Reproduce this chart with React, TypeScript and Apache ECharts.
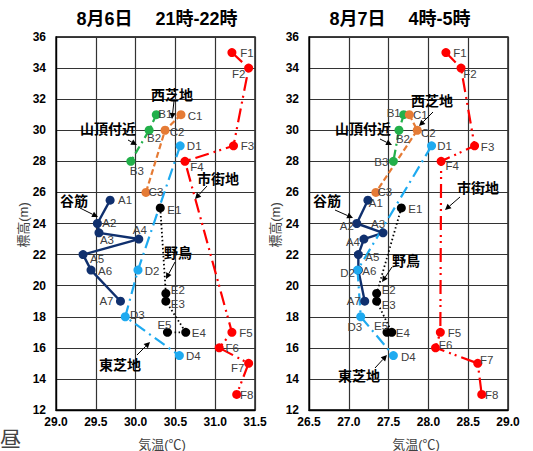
import React, { useEffect, useRef } from 'react';
import * as echarts from 'echarts';

// ---- data ----
const titles = ['8月6日　 21時-22時', '8月7日　 4時-5時'];
const xMins = [29.0, 26.5];
const xMaxs = [31.5, 29.0];
const yMin = 12;
const yMax = 36;

const namesA = ['A1', 'A2', 'A3', 'A4', 'A5', 'A6', 'A7'];
const namesB = ['B1', 'B2', 'B3'];
const namesC = ['C1', 'C2', 'C3'];
const namesD = ['D1', 'D2', 'D3', 'D4'];
const namesE = ['E1', 'E2', 'E3', 'E4', 'E5'];
const namesF = ['F1', 'F2', 'F3', 'F4', 'F5', 'F6', 'F7', 'F8'];

const elevA = [25.5, 24, 23.4, 23, 22, 21, 19];
const elevB = [31, 30, 28];
const elevC = [31, 30, 26];
const elevD = [29, 21, 18, 15.5];
const elevE = [25, 19.5, 19, 17, 17];
const elevF = [35, 34, 29, 28, 17, 16, 15, 13];

// 8/6 21-22h
const tempA1 = [29.68, 29.52, 29.54, 30.04, 29.34, 29.44, 29.81];
const tempB1 = [30.26, 30.17, 29.94];
const tempC1 = [30.57, 30.37, 30.13];
const tempD1 = [30.56, 30.03, 29.87, 30.55];
const tempE1 = [30.31, 30.38, 30.38, 30.63, 30.4];
const tempF1 = [31.21, 31.42, 31.23, 30.62, 31.21, 31.05, 31.42, 31.27];

// 8/7 4-5h
const tempA2 = [27.24, 27.1, 27.43, 27.19, 27.12, 27.12, 27.2];
const tempB2 = [27.69, 27.63, 27.56];
const tempC2 = [27.76, 27.86, 27.34];
const tempD2 = [28.04, 27.11, 27.15, 27.56];
const tempE2 = [27.66, 27.35, 27.35, 27.54, 27.48];
const tempF2 = [28.22, 28.41, 28.58, 28.16, 28.15, 28.09, 28.62, 28.67];

const areaLabels = ['谷筋', '山頂付近', '西芝地', '東芝地', '野鳥', '市街地'];

// ---- styles ----
const FONT = '"Liberation Sans", Arial, "Noto Sans CJK JP", sans-serif';
const colors = ['#10306e', '#22b04a', '#e57b35', '#1eaaf0', '#000000', '#ff0000'];
const dashes: any[] = ['solid', [8, 4, 2, 4], [6, 3], [12, 5, 2, 5], [1.5, 2.5], [14, 5, 2, 4, 2, 5]];
const widths = [2.4, 2.2, 2.2, 2.2, 1.8, 2.2];

// label offsets (label centre minus point centre, px)
const offL: number[][][] = [
  [[15, 0], [12, -1], [8, 7], [1, -9], [14, 4], [14, 1], [-14, 0]],
  [[9, -1], [5, 8], [6, 10]],
  [[14, 1], [12, 2], [10, 0]],
  [[14, 0], [14, 1], [12, -2], [14, 0]],
  [[14, 2], [12, -3], [12, 3], [13, 1], [-3, -7]],
  [[15, 0], [-10, 6], [14, 0], [12, 6], [14, 1], [13, 0], [-11, 5], [10, 1]],
];
const offR: number[][][] = [
  [[8, 3], [-10, 2], [-5, -9], [-11, 3], [14, 2], [11, 1], [-11, 0]],
  [[-10, -2], [4, 9], [-12, 1]],
  [[11, 0], [11, 3], [9, 0]],
  [[13, 0], [-10, 3], [-6, 10], [15, 1]],
  [[14, 1], [12, -3], [12, 4], [11, 1], [-6, -6]],
  [[14, 0], [9, 6], [13, 1], [11, 5], [14, 1], [10, -3], [9, -3], [10, 1]],
];

// annotation text centres and arrows [x0,y0,x1,y1] per panel (order = areaLabels)
const annotL = [
  { t: [74, 201], a: [80, 208, 98, 217] },
  { t: [108, 129], a: [128, 140, 137, 145] },
  { t: [172, 95], a: [174, 101, 172, 119] },
  { t: [120, 365], a: [137, 355, 150, 342] },
  { t: [178, 253], a: [175, 262, 166, 279] },
  { t: [218, 179], a: [207, 186, 195, 199] },
];
const annotR = [
  { t: [327, 201], a: [335, 210, 353, 218] },
  { t: [363, 129], a: [380, 139, 392, 145] },
  { t: [432, 101], a: [433, 112, 419, 126] },
  { t: [359, 376], a: [375, 368, 387, 355] },
  { t: [406, 261], a: [392, 267, 382, 282] },
  { t: [478, 188], a: [460, 197, 445, 210] },
];

const gridLefts = [56, 309];
const gridTop = 37;
const gridW = 199;
const gridH = 373;

function mkSeries(idx: number, names: string[], temps: number[], elevs: number[], offs: number[][], axis: number) {
  return {
    type: 'line',
    name: names[0][0] + axis,
    xAxisIndex: axis,
    yAxisIndex: axis,
    symbol: 'circle',
    symbolSize: 9,
    clip: false,
    itemStyle: { color: colors[idx] },
    lineStyle: { color: colors[idx], width: widths[idx], type: dashes[idx] },
    data: temps.map((t, i) => ({
      value: [t, elevs[i]],
      label: {
        show: true,
        formatter: names[i],
        position: 'inside',
        offset: offs[i],
        align: 'center',
        verticalAlign: 'middle',
        color: '#404040',
        fontSize: 11.5,
        fontFamily: FONT,
      },
    })),
  };
}

function arrow(a: number[]) {
  const [x0, y0, x1, y1] = a;
  const dx = x1 - x0;
  const dy = y1 - y0;
  const len = Math.sqrt(dx * dx + dy * dy);
  const ux = dx / len;
  const uy = dy / len;
  const hl = 6;
  const hw = 3;
  const bx = x1 - ux * hl;
  const by = y1 - uy * hl;
  return [
    { type: 'line', shape: { x1: x0, y1: y0, x2: bx, y2: by }, style: { stroke: '#000', lineWidth: 1 }, z: 100 },
    {
      type: 'polygon',
      shape: { points: [[x1, y1], [bx - uy * hw, by + ux * hw], [bx + uy * hw, by - ux * hw]] },
      style: { fill: '#000' },
      z: 100,
    },
  ];
}

export default function App() {
  const ref = useRef<HTMLDivElement>(null);
  useEffect(() => {
    document.body.style.margin = '0';
    const chart = echarts.init(ref.current!, undefined, { renderer: 'svg' });
    const groupsL = [
      [namesA, tempA1, elevA], [namesB, tempB1, elevB], [namesC, tempC1, elevC],
      [namesD, tempD1, elevD], [namesE, tempE1, elevE], [namesF, tempF1, elevF],
    ];
    const groupsR = [
      [namesA, tempA2, elevA], [namesB, tempB2, elevB], [namesC, tempC2, elevC],
      [namesD, tempD2, elevD], [namesE, tempE2, elevE], [namesF, tempF2, elevF],
    ];
    const series: any[] = [];
    groupsL.forEach((g: any, i) => series.push(mkSeries(i, g[0], g[1], g[2], offL[i], 0)));
    groupsR.forEach((g: any, i) => series.push(mkSeries(i, g[0], g[1], g[2], offR[i], 1)));

    const graphics: any[] = [];
    [annotL, annotR].forEach((ann) => {
      ann.forEach((an, i) => {
        graphics.push({
          type: 'text',
          x: an.t[0],
          y: an.t[1],
          z: 100,
          style: {
            text: areaLabels[i],
            fontSize: 14,
            fontWeight: 'bold',
            fontFamily: FONT,
            fill: '#000',
            align: 'center',
            verticalAlign: 'middle',
          },
        });
        graphics.push(...arrow(an.a));
      });
    });
    // titles
    [157, 400].forEach((cx, i) => {
      graphics.push({
        type: 'text', x: cx, y: 19,
        style: { text: titles[i], fontSize: 18, fontWeight: 'bold', fontFamily: FONT, fill: '#000', align: 'center', verticalAlign: 'middle' },
      });
    });
    // axis names
    [23, 275].forEach((cx) => {
      graphics.push({
        type: 'text', x: cx, y: 225, rotation: Math.PI / 2,
        style: { text: '標高(m)', fontSize: 13, fontFamily: FONT, fill: '#404040', align: 'center', verticalAlign: 'middle' },
      });
    });
    [162, 416].forEach((cx) => {
      graphics.push({
        type: 'text', x: cx, y: 444,
        style: { text: '気温(℃)', fontSize: 13, fontFamily: FONT, fill: '#404040', align: 'center', verticalAlign: 'middle' },
      });
    });
    graphics.push({
      type: 'text', x: 0, y: 438,
      style: { text: '昼', fontSize: 21, fontFamily: FONT, fill: '#444', align: 'left', verticalAlign: 'middle' },
    });

    const axisLabel = { color: '#000', fontSize: 12, fontWeight: 'bold', fontFamily: FONT };
    chart.setOption({
      animation: false,
      backgroundColor: '#fff',
      grid: gridLefts.map((l) => ({
        left: l, top: gridTop, width: gridW, height: gridH,
        show: true, borderColor: '#000', borderWidth: 1.3, backgroundColor: 'transparent',
      })),
      xAxis: [0, 1].map((i) => ({
        type: 'value', gridIndex: i, min: xMins[i], max: xMaxs[i], interval: 0.5,
        axisLine: { show: true, lineStyle: { color: '#000', width: 1.3 } },
        axisTick: { show: false },
        axisLabel: { ...axisLabel, margin: 6, formatter: (v: number) => v.toFixed(1) },
        splitLine: { show: true, lineStyle: { color: '#333', width: 1.2 } },
      })),
      yAxis: [0, 1].map((i) => ({
        type: 'value', gridIndex: i, min: yMin, max: yMax, interval: 2,
        axisLine: { show: true, lineStyle: { color: '#000', width: 1.3 } },
        axisTick: { show: false },
        axisLabel: { ...axisLabel, margin: 10 },
        splitLine: { show: true, lineStyle: { color: '#333', width: 1.2 } },
      })),
      series,
      graphic: graphics,
    });
    return () => chart.dispose();
  }, []);
  return <div ref={ref} style={{ width: 533, height: 451 }} />;
}
